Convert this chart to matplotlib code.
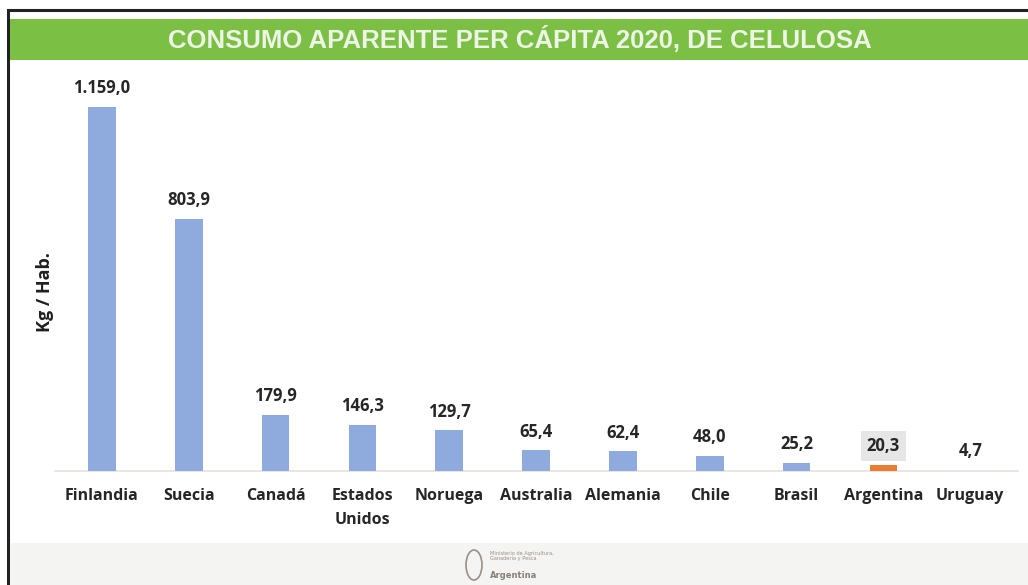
import matplotlib
matplotlib.use("Agg")
import matplotlib.pyplot as plt
from matplotlib.patches import Rectangle, Ellipse

countries = ["Finlandia", "Suecia", "Canadá", "Estados\nUnidos", "Noruega",
             "Australia", "Alemania", "Chile", "Brasil", "Argentina", "Uruguay"]
values = [1159.0, 803.9, 179.9, 146.3, 129.7, 65.4, 62.4, 48.0, 25.2, 20.3, 4.7]
value_labels = ["1.159,0", "803,9", "179,9", "146,3", "129,7", "65,4",
                "62,4", "48,0", "25,2", "20,3", "4,7"]
title = "CONSUMO APARENTE PER CÁPITA 2020, DE CELULOSA"
ylabel = "Kg / Hab."

W, H = 1028, 585
fig = plt.figure(figsize=(W / 100, H / 100), dpi=100)
fig.patch.set_facecolor("white")

def fx(px):
    return px / W

def fy(py):
    return 1 - py / H

# border
fig.add_artist(Rectangle((fx(8), fy(H + 5)), fx(W + 10) - fx(8), fy(10) - fy(H + 5),
                         transform=fig.transFigure, fill=False, edgecolor="#222222",
                         linewidth=2.2, zorder=0))
# green banner
fig.add_artist(Rectangle((fx(10), fy(60)), fx(W) - fx(10), fy(19) - fy(60),
                         transform=fig.transFigure, facecolor="#7bbf45",
                         edgecolor="none", zorder=1))
fig.text(fx(520), fy(40), title, ha="center", va="center", color="#eef5e6",
         fontsize=18.5, fontweight="bold", family="Liberation Sans", zorder=2)
# footer band
fig.add_artist(Rectangle((fx(10), fy(H)), fx(W) - fx(10), fy(543) - fy(H),
                         transform=fig.transFigure, facecolor="#f4f4f2",
                         edgecolor="none", zorder=1))
fig.add_artist(Ellipse((fx(474), fy(565)), fx(16), fy(0) - fy(30),
                       transform=fig.transFigure, facecolor="none",
                       edgecolor="#9a8f88", linewidth=1.2, zorder=2))
fig.text(fx(490), fy(556), "Ministerio de Agricultura,\nGanadería y Pesca",
         fontsize=3.6, color="#9a8f88", va="center", ha="left", linespacing=1.1)
fig.text(fx(490), fy(575), "Argentina", fontsize=6, color="#8a7f78",
         fontweight="bold", va="center", ha="left")

# axes
left, right = 55, 1018
top, bottom = 70, 471
ax = fig.add_axes([fx(left), fy(bottom), fx(right) - fx(left), fy(top) - fy(bottom)])
ax.set_facecolor("none")

colors = ["#8faadc"] * len(values)
colors[9] = "#ed7d31"
colors[10] = "#dfe4ee"
x = list(range(len(values)))
ax.bar(x, values, width=0.32, color=colors, zorder=3)

ax.set_xlim(-0.54, 10.55)
ax.set_ylim(0, 1277)

for i, (v, lab) in enumerate(zip(values, value_labels)):
    bbox = None
    if i == 9:
        bbox = dict(boxstyle="square,pad=0.35", facecolor="#e6e6e6", edgecolor="none")
    ax.annotate(lab, (i, v), xytext=(0, 7), textcoords="offset points",
                ha="center", va="bottom", fontsize=12, fontweight="bold",
                color="#262626", family="Open Sans", bbox=bbox)

ax.set_xticks(x)
ax.set_xticklabels(countries, fontsize=11.5, fontweight="bold", color="#262626",
                   family="Open Sans", linespacing=1.7, va="top")
ax.tick_params(axis="x", length=0, pad=12)
ax.set_yticks([])
for s in ["top", "right", "left"]:
    ax.spines[s].set_visible(False)
ax.spines["bottom"].set_color("#e6e0dc")
ax.spines["bottom"].set_linewidth(1.2)

fig.text(fx(45), fy(292), ylabel, rotation=90, ha="center", va="center",
         fontsize=13, fontweight="bold", color="#1f1f1f", family="Open Sans")

fig.savefig("out.png", dpi=100, facecolor="white")
